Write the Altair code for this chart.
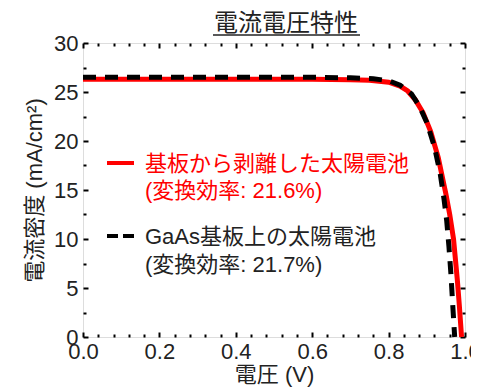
import altair as alt
import pandas as pd

# ---- data ----
v_red = [0.0, 0.1, 0.2, 0.3, 0.4, 0.5, 0.6, 0.7, 0.75, 0.8, 0.83, 0.85, 0.87, 0.89, 0.91,
         0.93, 0.95, 0.96, 0.97, 0.98, 0.985, 0.991]
j_red = [26.3, 26.3, 26.3, 26.3, 26.3, 26.3, 26.3, 26.25, 26.2, 26.0, 25.6, 25.1, 24.2,
         22.9, 21.0, 18.3, 14.6, 12.5, 10.0, 5.8, 3.3, 0.0]

v_blk = [0.0, 0.1, 0.2, 0.3, 0.4, 0.5, 0.6, 0.7, 0.76, 0.8, 0.83, 0.86, 0.88, 0.9, 0.92,
         0.935, 0.945, 0.952, 0.958, 0.963, 0.968, 0.973]
j_blk = [26.5, 26.5, 26.5, 26.5, 26.5, 26.5, 26.5, 26.45, 26.35, 26.15, 25.7, 24.8, 23.6,
         21.9, 19.4, 16.7, 14.1, 11.9, 9.2, 6.5, 3.2, 0.0]

series_names = ["基板から剥離した太陽電池", "GaAs基板上の太陽電池"]
efficiencies = ["(変換効率: 21.6%)", "(変換効率: 21.7%)"]
series_colors = ["#ff0000", "#000000"]
label_colors = ["#ff0000", "#222222"]

chart_title = "電流電圧特性"
x_title = "電圧 (V)"
y_title = "電流密度 (mA/cm²)"

x_major = [0.0, 0.2, 0.4, 0.6, 0.8, 1.0]
x_minor = [0.04, 0.08, 0.12, 0.16, 0.24, 0.28, 0.32, 0.36, 0.44, 0.48, 0.52, 0.56,
           0.64, 0.68, 0.72, 0.76, 0.84, 0.88, 0.92, 0.96]
y_major = [0, 5, 10, 15, 20, 25, 30]
y_minor = [2.5, 7.5, 12.5, 17.5, 22.5, 27.5]

FONT = "Liberation Sans, Arial, Noto Sans CJK JP"
TXT = "#222222"
W, H = 382, 294

red_df = pd.DataFrame({"V": v_red, "J": j_red})
blk_df = pd.DataFrame({"V": v_blk, "J": j_blk})

xs = alt.Scale(domain=[0, 1.0], nice=False, zero=False)
ys = alt.Scale(domain=[0, 30], nice=False, zero=False)


def ax(orient, values, size, labels=False, title=None, fmt=None, pad=0, **extra):
    kw = dict(orient=orient, values=values, tickSize={"expr": str(-size)}, tickWidth=2,
              tickColor="black", domain=False, grid=False, labels=labels, title=title)
    if labels:
        kw.update(labelFont=FONT, labelFontSize=22, labelColor=TXT, labelPadding=pad,
                  labelOverlap=False, labelFlush=False, format=fmt)
    if title:
        kw.update(titleFont=FONT, titleFontSize=22, titleFontWeight="normal",
                  titleColor=TXT)
    kw.update(extra)
    return alt.Axis(**kw)


red = alt.Chart(red_df).mark_line(color=series_colors[0], strokeWidth=5).encode(
    x=alt.X("V:Q", scale=xs, axis=ax("bottom", x_major, 5, True, x_title, ".1f", 9,
                                     titleY=37, titleBaseline="middle")),
    y=alt.Y("J:Q", scale=ys, axis=ax("left", y_major, 5, True, y_title, "d", 10,
                                     titlePadding=7)),
)
blk = alt.Chart(blk_df).mark_line(color=series_colors[1], strokeWidth=5,
                                  strokeDash=[13, 9]).encode(
    x=alt.X("V:Q", scale=xs, axis=ax("bottom", x_minor, 3)),
    y=alt.Y("J:Q", scale=ys, axis=ax("left", y_minor, 3)),
)
top_major = alt.Chart(red_df).mark_line(strokeOpacity=0).encode(
    x=alt.X("V:Q", scale=xs, axis=ax("top", x_major, 5)),
    y=alt.Y("J:Q", scale=ys, axis=ax("right", y_major, 5)),
)
top_minor = alt.Chart(red_df).mark_line(strokeOpacity=0).encode(
    x=alt.X("V:Q", scale=xs, axis=ax("top", x_minor, 3)),
    y=alt.Y("J:Q", scale=ys, axis=ax("right", y_minor, 3)),
)

# legend (manual, inside plot)
leg_df = pd.DataFrame({"name": series_names, "eff": efficiencies})
leg_red_line = alt.Chart(leg_df.iloc[[0]]).mark_rule(color=series_colors[0], strokeWidth=4).encode(
    x=alt.value(24), x2=alt.value(51), y=alt.value(120))
leg_blk_line = alt.Chart(leg_df.iloc[[1]]).mark_rule(color=series_colors[1], strokeWidth=4,
                                                     strokeDash=[11, 5]).encode(
    x=alt.value(24), x2=alt.value(51), y=alt.value(193))


def leg_text(i, field, ypos):
    return alt.Chart(leg_df.iloc[[i]]).mark_text(
        font=FONT, fontSize=22, color=label_colors[i], align="left", baseline="middle"
    ).encode(x=alt.value(62), y=alt.value(ypos), text=f"{field}:N")


legend_layers = [
    leg_red_line, leg_text(0, "name", 121), leg_text(0, "eff", 148),
    leg_blk_line, leg_text(1, "name", 194), leg_text(1, "eff", 222),
]

title_df = pd.DataFrame({"t": [chart_title]})
title_text = alt.Chart(title_df).mark_text(
    font=FONT, fontSize=24, color=TXT, align="center", baseline="middle"
).encode(x=alt.value(203), y=alt.value(-19), text="t:N")
title_line = alt.Chart(title_df).mark_rule(color=TXT, strokeWidth=1.5).encode(
    x=alt.value(130), x2=alt.value(277), y=alt.value(-8))

chart = alt.layer(
    red, blk, top_major, top_minor, *legend_layers, title_text, title_line
).resolve_axis(x="independent", y="independent").properties(
    width=W, height=H,
    autosize=alt.AutoSizeParams(type="none"),
    padding={"left": 75, "top": 35, "right": 6, "bottom": 50},
).configure_view(stroke="black", strokeWidth=2).configure(background="white")

chart.save("out.html", embed_options={"renderer": "svg", "actions": False})
